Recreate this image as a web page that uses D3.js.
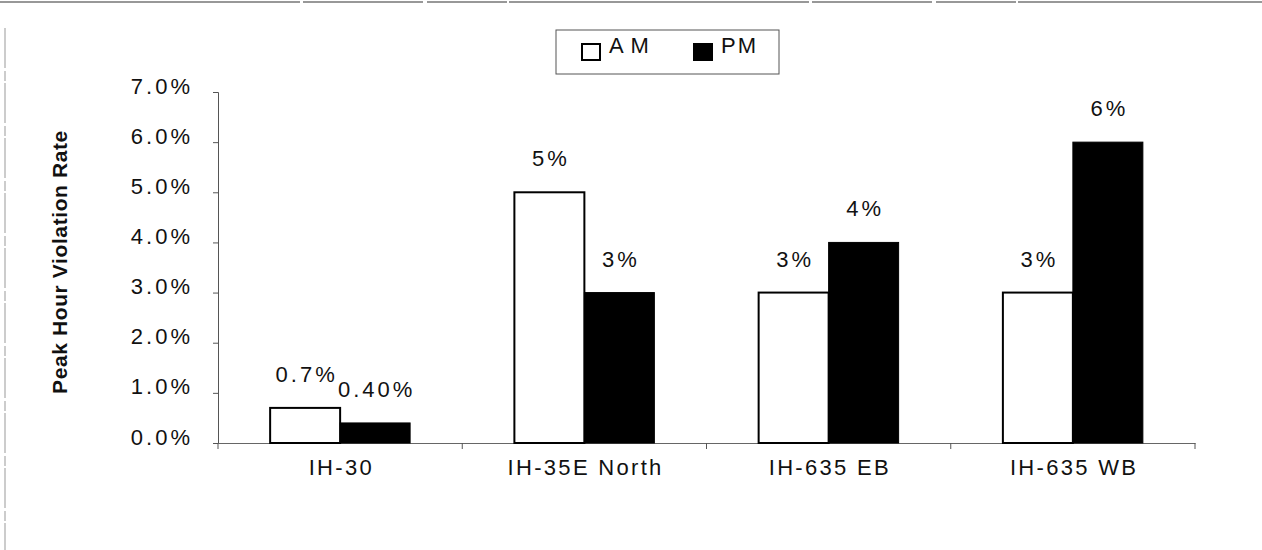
<!DOCTYPE html>
<html>
<head>
<meta charset="utf-8">
<script src="https://cdn.jsdelivr.net/npm/d3@7"></script>
<style>
  html, body { margin: 0; padding: 0; background: #fff; }
  svg { display: block; }
  text { font-family: "Liberation Sans", Arial, sans-serif; fill: #111; }
</style>
</head>
<body>
<svg id="chart" width="1262" height="550"></svg>
<script>
// ---- data ----
const categories = ["IH-30", "IH-35E North", "IH-635 EB", "IH-635 WB"];
const seriesNames = ["A M", "PM"];
const amValues = [0.7, 5, 3, 3];
const pmValues = [0.4, 3, 4, 6];
const amLabels = ["0.7%", "5%", "3%", "3%"];
const pmLabels = ["0.40%", "3%", "4%", "6%"];
const yTicks = [0, 1, 2, 3, 4, 5, 6, 7];
const yTickLabels = ["0.0%", "1.0%", "2.0%", "3.0%", "4.0%", "5.0%", "6.0%", "7.0%"];
const yTitle = "Peak Hour Violation Rate";

const svg = d3.select("#chart");

// page frame
svg.append("line").attr("x1", 0).attr("x2", 1262).attr("y1", 2).attr("y2", 2)
  .attr("stroke", "#777").attr("stroke-width", 1.5).attr("stroke-dasharray", "300,3,120,4,80,2");
svg.append("line").attr("x1", 5).attr("x2", 5).attr("y1", 28).attr("y2", 550)
  .attr("stroke", "#999").attr("stroke-width", 1).attr("stroke-dasharray", "40,3,10,2");

const plot = { left: 218, right: 1195, top: 92, bottom: 443 };

const x0 = d3.scaleBand().domain(categories).range([plot.left, plot.right]).padding(0);
const x1 = d3.scaleBand().domain(seriesNames).range([0, x0.bandwidth()])
  .paddingInner(0).paddingOuter(0.745);
const y = d3.scaleLinear().domain([0, 7]).range([plot.bottom, plot.top]);

const rows = categories.map((c, i) => ({
  cat: c,
  vals: [
    { s: seriesNames[0], v: amValues[i], label: amLabels[i] },
    { s: seriesNames[1], v: pmValues[i], label: pmLabels[i] }
  ]
}));

const FS = "22px";

// y axis
const yAxis = d3.axisLeft(y).tickValues(yTicks)
  .tickFormat((d, i) => yTickLabels[i]).tickSize(5).tickPadding(20);
const gy = svg.append("g").attr("transform", `translate(${plot.left},0)`).call(yAxis);
gy.select(".domain").attr("stroke", "#555").attr("stroke-width", 1);
gy.selectAll(".tick line").attr("stroke", "#555");
gy.selectAll(".tick text")
  .attr("dy", "0.05em")
  .style("font-family", '"Liberation Sans", Arial, sans-serif')
  .style("font-size", FS).style("letter-spacing", "3px").attr("fill", "#111");

// x axis
const xAxis = d3.axisBottom(x0).tickSize(0).tickPadding(13);
const gx = svg.append("g").attr("transform", `translate(0,${plot.bottom})`).call(xAxis);
gx.select(".domain").attr("stroke", "#666").attr("stroke-width", 1.2);
gx.selectAll(".tick text")
  .attr("dx", "1.2px")
  .attr("dy", "0.85em")
  .style("font-family", '"Liberation Sans", Arial, sans-serif')
  .style("font-size", FS).style("letter-spacing", "2.3px").attr("fill", "#111");
// category boundary ticks
gx.selectAll(".bound").data(categories.concat(["__end"])).enter().append("line")
  .attr("class", "bound")
  .attr("x1", d => d === "__end" ? plot.right : x0(d))
  .attr("x2", d => d === "__end" ? plot.right : x0(d))
  .attr("y1", 0).attr("y2", 6).attr("stroke", "#555");

// bars
const groups = svg.append("g").selectAll("g").data(rows).enter().append("g")
  .attr("transform", d => `translate(${x0(d.cat)},0)`);
groups.selectAll("rect").data(d => d.vals).enter().append("rect")
  .attr("x", d => x1(d.s))
  .attr("y", d => y(d.v))
  .attr("width", x1.bandwidth())
  .attr("height", d => y(0) - y(d.v))
  .attr("fill", (d, i) => i === 0 ? "#fff" : "#000")
  .attr("stroke", "#000")
  .attr("stroke-width", (d, i) => i === 0 ? 2 : 1);
groups.selectAll("text").data(d => d.vals).enter().append("text")
  .attr("x", d => x1(d.s) + x1.bandwidth() / 2 + 1.5)
  .attr("y", d => y(d.v) - 26)
  .attr("text-anchor", "middle")
  .style("font-size", FS).style("letter-spacing", "3px")
  .text(d => d.label);

// y title
svg.append("text")
  .attr("transform", "translate(67,262) rotate(-90)")
  .attr("text-anchor", "middle")
  .style("font-size", "21px").style("font-weight", "bold").style("letter-spacing", "0.6px")
  .text(yTitle);

// legend
const lg = svg.append("g");
lg.append("rect").attr("x", 556).attr("y", 30).attr("width", 223).attr("height", 44)
  .attr("fill", "none").attr("stroke", "#555").attr("stroke-width", 1);
const legendX = [582, 694];
seriesNames.forEach((s, i) => {
  lg.append("rect").attr("x", legendX[i]).attr("y", 44).attr("width", 18).attr("height", 16)
    .attr("fill", i === 0 ? "#fff" : "#000").attr("stroke", "#000").attr("stroke-width", 2);
  lg.append("text").attr("x", legendX[i] + 27).attr("y", 53)
    .style("font-size", FS).style("letter-spacing", i === 0 ? "1px" : "2px")
    .text(s);
});
</script>
</body>
</html>
